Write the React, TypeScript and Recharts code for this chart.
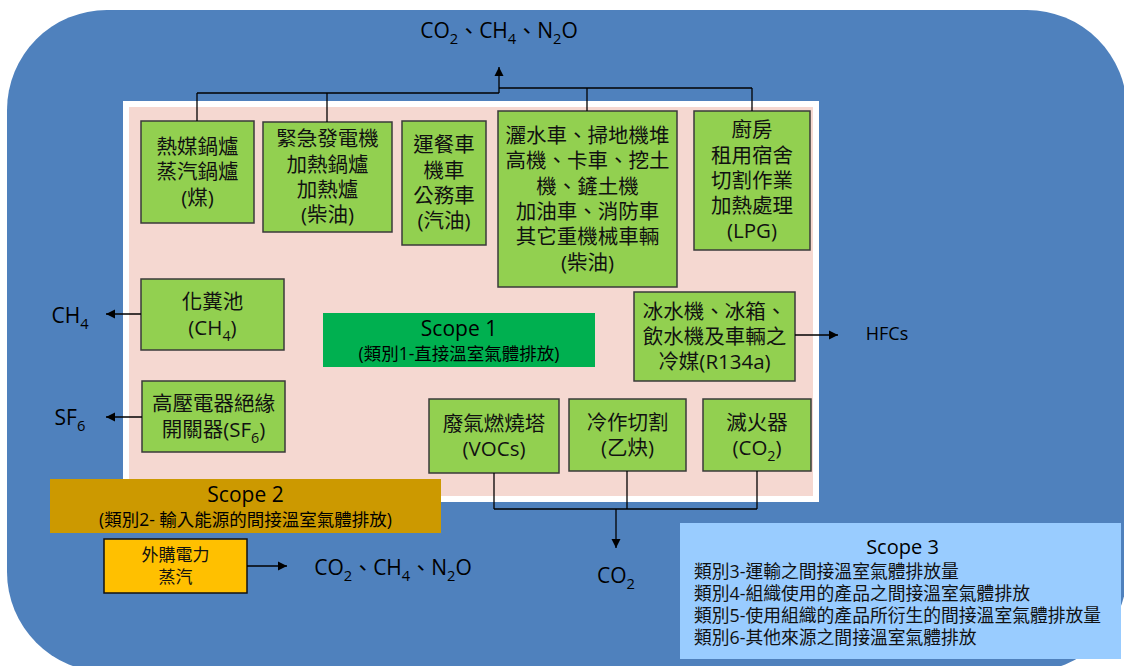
import React from 'react';
import { ComposedChart, XAxis, YAxis, ReferenceArea, ReferenceLine, Scatter } from 'recharts';

const WIDTH = 1124;
const HEIGHT = 666;
const FONT = '"Open Sans", "Noto Sans CJK TC", sans-serif';

// 組織邊界 (blue rounded frame) and the Scope 1 site area
const frame = { x1: 7, x2: 1127, y1: 10, y2: 672 };
const siteOuter = { x1: 123, x2: 819, y1: 101, y2: 502 };
const siteInner = { x1: 129, x2: 813, y1: 107, y2: 496 };

// Scope 1 排放源 (green boxes), "_" marks a subscript character
const sourceBoxes = [
  { x1: 141, x2: 254, y1: 121, y2: 223, lines: ['熱媒鍋爐', '蒸汽鍋爐', '(煤)'] },
  { x1: 263, x2: 392, y1: 122, y2: 232, lines: ['緊急發電機', '加熱鍋爐', '加熱爐', '(柴油)'] },
  { x1: 402, x2: 486, y1: 121, y2: 245, lines: ['運餐車', '機車', '公務車', '(汽油)'] },
  { x1: 498, x2: 677, y1: 111, y2: 287, lines: ['灑水車、掃地機堆', '高機、卡車、挖土', '機、鏟土機', '加油車、消防車', '其它重機械車輛', '(柴油)'] },
  { x1: 694, x2: 810, y1: 111, y2: 250, lines: ['廚房', '租用宿舍', '切割作業', '加熱處理', '(LPG)'] },
  { x1: 141, x2: 284, y1: 279, y2: 350, lines: ['化糞池', '(CH_4)'] },
  { x1: 142, x2: 285, y1: 381, y2: 452, lines: ['高壓電器絕緣', '開關器(SF_6)'] },
  { x1: 634, x2: 795, y1: 292, y2: 381, lines: ['冰水機、冰箱、', '飲水機及車輛之', '冷媒(R134a)'] },
  { x1: 429, x2: 559, y1: 399, y2: 473, lines: ['廢氣燃燒塔', '(VOCs)'] },
  { x1: 569, x2: 686, y1: 399, y2: 471, lines: ['冷作切割', '(乙炔)'] },
  { x1: 703, x2: 811, y1: 399, y2: 471, lines: ['滅火器', '(CO_2)'] },
];

const scopeTags = [
  { x1: 323, x2: 595, y1: 313, y2: 367, title: 'Scope 1', sub: '(類別1-直接溫室氣體排放)' },
  { x1: 50, x2: 441, y1: 479, y2: 533, title: 'Scope 2', sub: '(類別2- 輸入能源的間接溫室氣體排放)' },
];
const tagColors = ['#00B050', '#CC9900'];

const purchased = { x1: 104, x2: 247, y1: 539, y2: 593, lines: ['外購電力', '蒸汽'] };

const scope3Box = { x1: 680, x2: 1121, y1: 523, y2: 659 };
const scope3Title = 'Scope 3';
const scope3Lines = [
  '類別3-運輸之間接溫室氣體排放量',
  '類別4-組織使用的產品之間接溫室氣體排放',
  '類別5-使用組織的產品所衍生的間接溫室氣體排放量',
  '類別6-其他來源之間接溫室氣體排放',
];

// plain connector segments
const connectors = [
  [197, 121, 197, 93], [327, 122, 327, 93], [197, 93, 499, 93],
  [499, 88, 752, 88], [587, 111, 587, 88], [752, 111, 752, 88],
  [494, 473, 494, 509], [627, 471, 627, 509], [757, 471, 757, 509], [494, 509, 757, 509],
];

// arrows: from -> to (tip)
const arrows = [
  { from: [499, 93], to: [499, 67] },
  { from: [141, 314], to: [106, 314] },
  { from: [142, 417], to: [106, 417] },
  { from: [795, 335], to: [838, 335] },
  { from: [247, 566], to: [287, 566] },
  { from: [616, 509], to: [616, 548] },
];

const gasLabels = [
  { x: 499, y: 30, text: 'CO_2、CH_4、N_2O' },
  { x: 70, y: 315, text: 'CH_4' },
  { x: 70, y: 417, text: 'SF_6' },
  { x: 393, y: 567, text: 'CO_2、CH_4、N_2O' },
  { x: 616, y: 575, text: 'CO_2' },
];
const hfcLabels = [{ x: 887, y: 334, text: 'HFCs' }];

function splitSub(s: string) {
  const out: { t: string; sub: boolean }[] = [];
  let buf = '';
  for (let i = 0; i < s.length; i++) {
    if (s[i] === '_' && i + 1 < s.length) {
      if (buf) out.push({ t: buf, sub: false });
      buf = '';
      out.push({ t: s[i + 1], sub: true });
      i++;
    } else buf += s[i];
  }
  if (buf) out.push({ t: buf, sub: false });
  return out;
}

function RichLine({ x, y, text, size, anchor = 'middle', fill = '#111' }: any) {
  const parts = splitSub(text);
  const shift = size * 0.3;
  let inSub = false;
  return (
    <text x={x} y={y + size * 0.36} textAnchor={anchor} fontSize={size} fontFamily={FONT} fill={fill}>
      {parts.map((p, i) => {
        let dy = 0;
        if (p.sub && !inSub) dy = shift;
        else if (!p.sub && inSub) dy = -shift;
        inSub = p.sub;
        return (
          <tspan key={i} dy={dy} fontSize={p.sub ? size * 0.7 : size}>
            {p.t}
          </tspan>
        );
      })}
    </text>
  );
}

const boxShape = (lines: string[], fill: string, stroke: string, size: number, lh: number) => (p: any) => {
  const cx = p.x + p.width / 2;
  const top = p.y + p.height / 2 - ((lines.length - 1) * lh) / 2;
  return (
    <g>
      <rect x={p.x} y={p.y} width={p.width} height={p.height} fill={fill} stroke={stroke} strokeWidth={1.5} />
      {lines.map((l, i) => (
        <RichLine key={i} x={cx} y={top + i * lh} text={l} size={size} />
      ))}
    </g>
  );
};

const tagShape = (title: string, sub: string, fill: string) => (p: any) => {
  const cx = p.x + p.width / 2;
  const cy = p.y + p.height / 2;
  return (
    <g>
      <rect x={p.x} y={p.y} width={p.width} height={p.height} fill={fill} />
      <RichLine x={cx} y={cy - 12} text={title} size={21} fill="#000" />
      <RichLine x={cx} y={cy + 14} text={sub} size={17.5} fill="#000" />
    </g>
  );
};

const scope3Shape = (p: any) => (
  <g>
    <rect x={p.x} y={p.y} width={p.width} height={p.height} fill="#99CCFF" />
    <RichLine x={p.x + p.width / 2 + 2} y={p.y + 24} text={scope3Title} size={20} fill="#000" />
    {scope3Lines.map((l, i) => (
      <RichLine key={i} x={p.x + 14} y={p.y + 49 + i * 21.7} text={l} size={17.8} anchor="start" fill="#111" />
    ))}
  </g>
);

function ArrowHead(props: any) {
  const { cx, cy, payload } = props;
  const angle = { right: 0, down: 90, left: 180, up: -90 }[payload.dir as string] ?? 0;
  return (
    <polygon
      points="0,0 -9,-4.5 -9,4.5"
      fill="#000"
      transform={`translate(${cx},${cy}) rotate(${angle})`}
    />
  );
}

const arrowTips = arrows.map((a) => {
  const dx = a.to[0] - a.from[0];
  const dy = a.to[1] - a.from[1];
  const dir = Math.abs(dx) > Math.abs(dy) ? (dx > 0 ? 'right' : 'left') : dy > 0 ? 'down' : 'up';
  return { x: a.to[0], y: a.to[1], dir };
});

export default function App() {
  return (
    <div style={{ position: 'absolute', left: 0, top: 0, background: '#fff' }}>
      <ComposedChart width={WIDTH} height={HEIGHT} margin={{ top: 0, right: 0, bottom: 0, left: 0 }}>
        <XAxis type="number" dataKey="x" domain={[0, WIDTH]} hide allowDataOverflow />
        <YAxis type="number" dataKey="y" domain={[0, HEIGHT]} reversed hide allowDataOverflow />

        <ReferenceArea
          {...frame}
          ifOverflow="visible"
          shape={(p: any) => <rect x={p.x} y={p.y} width={p.width} height={p.height} rx={100} ry={100} fill="#4F81BD" />}
        />
        <ReferenceArea {...siteOuter} fill="#FFFFFF" fillOpacity={1} stroke="none" ifOverflow="visible" />
        <ReferenceArea {...siteInner} fill="#F5D8D1" fillOpacity={1} stroke="none" ifOverflow="visible" />

        {sourceBoxes.map((b, i) => (
          <ReferenceArea
            key={`src-${i}`}
            x1={b.x1} x2={b.x2} y1={b.y1} y2={b.y2}
            ifOverflow="visible"
            shape={boxShape(b.lines, '#92D050', '#3A3A3A', 20.5, 25.3)}
          />
        ))}

        {scopeTags.map((t, i) => (
          <ReferenceArea
            key={`tag-${i}`}
            x1={t.x1} x2={t.x2} y1={t.y1} y2={t.y2}
            ifOverflow="visible"
            shape={tagShape(t.title, t.sub, tagColors[i])}
          />
        ))}

        <ReferenceArea
          x1={purchased.x1} x2={purchased.x2} y1={purchased.y1} y2={purchased.y2}
          ifOverflow="visible"
          shape={boxShape(purchased.lines, '#FFC000', '#111111', 17, 22)}
        />

        <ReferenceArea {...scope3Box} ifOverflow="visible" shape={scope3Shape} />

        {connectors.map((c, i) => (
          <ReferenceLine
            key={`con-${i}`}
            segment={[{ x: c[0], y: c[1] }, { x: c[2], y: c[3] }]}
            stroke="#000"
            strokeWidth={1.3}
            ifOverflow="visible"
          />
        ))}
        {arrows.map((a, i) => (
          <ReferenceLine
            key={`arr-${i}`}
            segment={[{ x: a.from[0], y: a.from[1] }, { x: a.to[0], y: a.to[1] }]}
            stroke="#000"
            strokeWidth={1.3}
            ifOverflow="visible"
          />
        ))}

        <Scatter data={arrowTips} isAnimationActive={false} shape={(p: any) => <ArrowHead {...p} />} />
        <Scatter
          data={gasLabels}
          isAnimationActive={false}
          shape={(p: any) => <RichLine x={p.cx} y={p.cy} text={p.payload.text} size={21} fill="#000" />}
        />
        <Scatter
          data={hfcLabels}
          isAnimationActive={false}
          shape={(p: any) => <RichLine x={p.cx} y={p.cy} text={p.payload.text} size={18} fill="#000" />}
        />
      </ComposedChart>
    </div>
  );
}
